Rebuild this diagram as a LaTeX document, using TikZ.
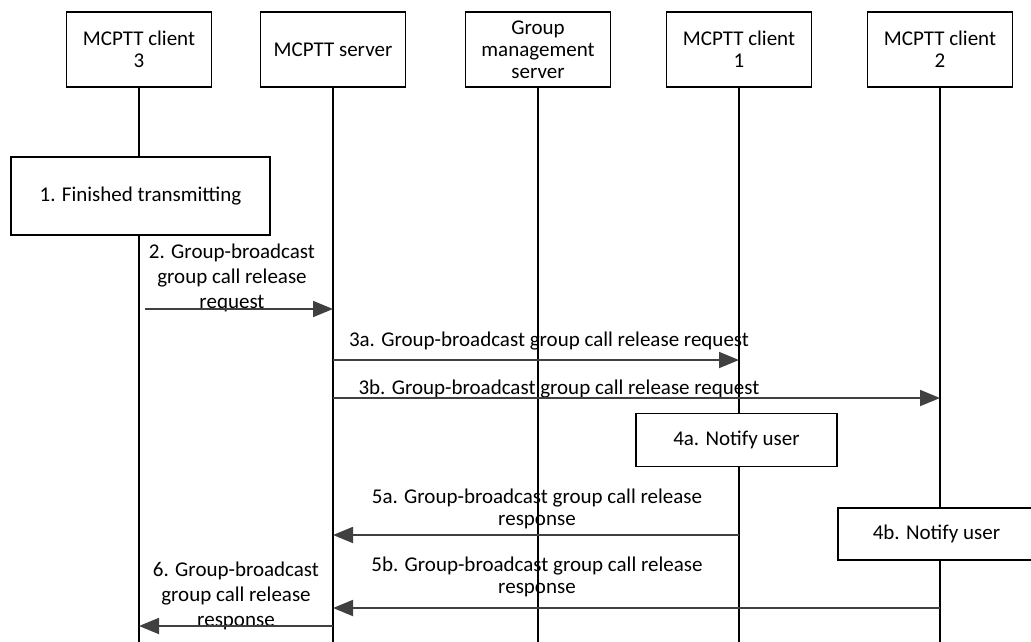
\documentclass[tikz,border=0pt]{standalone}
\usepackage{fontspec}
\setmainfont{Carlito}
\usetikzlibrary{arrows.meta, positioning}
\definecolor{msggray}{HTML}{404040}

\begin{document}
\begin{tikzpicture}[x=1pt, y=-1pt,
  ent/.style={draw, line width=1.3pt, fill=white, minimum width=145pt,
    minimum height=75pt, align=center, inner sep=2pt},
  act/.style={draw, line width=1.3pt, fill=white, align=center, inner sep=2pt},
  msg/.style={-{Triangle[length=20pt, width=16pt]}, line width=1.8pt, msggray},
  lbl/.style={align=center, inner sep=0pt},
  life/.style={line width=1.3pt},
  font=\fontsize{21}{22}\selectfont
]
  \useasboundingbox (0,0) rectangle (1031,641);

  % Entities
  \node[ent] (c3)  at (139,49.5) {MCPTT client\\3};
  \node[ent] (srv) at (333,49.5) {MCPTT server};
  \node[ent] (gms) at (538,49.5) {Group\\management\\server};
  \node[ent] (c1)  at (739,49.5) {MCPTT client\\1};
  \node[ent] (c2)  at (940,49.5) {MCPTT client\\2};

  % Lifelines
  \foreach \n in {c3,srv,gms,c1,c2}
    \draw[life] (\n.south) -- (\n.south |- 0,645);

  % 1
  \node[act, minimum width=259pt, minimum height=78pt] (fin) at (140.5,196)
    {1. Finished transmitting};

  % 2
  \node[lbl, font=\fontsize{21}{25}\selectfont] (l2) at (232,278)
    {2. Group-broadcast\\group call release\\request};
  \draw[msg, shorten <=6pt] (c3 |- 0,309) -- (srv |- 0,309);

  % 3a, 3b
  \node[lbl] (l3a) at (549,341) {3a. Group-broadcast group call release request};
  \draw[msg] (srv |- 0,360) -- (c1 |- 0,360);
  \node[lbl] (l3b) at (559,389) {3b. Group-broadcast group call release request};
  \draw[msg] (srv |- 0,398) -- (c2 |- 0,398);

  % 4a, 4b
  \node[act, minimum width=201pt, minimum height=53pt] (n4a) at (736.5,440)
    {4a. Notify user};
  \node[act, minimum width=197pt, minimum height=52pt] (n4b) at (936.5,534)
    {4b. Notify user};

  % 5a, 5b
  \node[lbl] (l5a) at (537,509) {5a. Group-broadcast group call release\\response};
  \draw[msg] (c1 |- 0,535) -- (srv |- 0,535);
  \node[lbl] (l5b) at (537,577) {5b. Group-broadcast group call release\\response};
  \draw[msg] (c2 |- 0,608) -- (srv |- 0,608);

  % 6
  \node[lbl, font=\fontsize{21}{25}\selectfont] (l6) at (236,596)
    {6. Group-broadcast\\group call release\\response};
  \draw[msg] (srv |- 0,626) -- (c3 |- 0,626);
\end{tikzpicture}
\end{document}
